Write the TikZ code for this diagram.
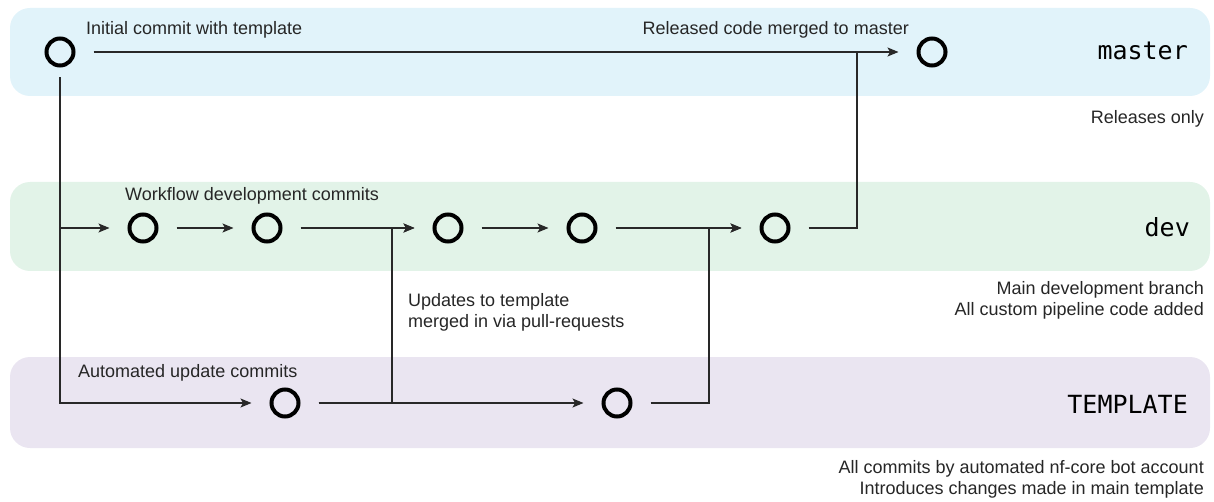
\documentclass[tikz,border=0pt]{standalone}
\usepackage{fontspec}
\setmainfont{Liberation Sans}
\setmonofont{DejaVu Sans Mono}
\usetikzlibrary{arrows.meta}
\definecolor{masterbg}{RGB}{225,243,250}
\definecolor{devbg}{RGB}{226,243,232}
\definecolor{tmplbg}{RGB}{234,229,241}
\definecolor{linegray}{RGB}{40,40,40}
\begin{document}
\begin{tikzpicture}[x=1pt,y=-1pt,
  commit/.style={circle, draw=black, line width=4pt, minimum size=27pt, inner sep=0pt, outer sep=20pt},
  conn/.style={draw=linegray, line width=1.3pt},
  push/.style={conn, -{Stealth[length=11pt,width=9pt,inset=2.5pt]}},
  band/.style={rounded corners=20pt, draw=none},
  lbl/.style={font=\fontsize{18}{21}\selectfont, inner sep=0pt, text=black!85},
  branch/.style={font=\fontsize{25}{30}\selectfont\ttfamily, inner sep=0pt, anchor=base east}]
\useasboundingbox (0,0) rectangle (1214,502);
% branch bands
\fill[band, masterbg] (10,8) rectangle (1210,96);
\fill[band, devbg] (10,182) rectangle (1210,271);
\fill[band, tmplbg] (10,357) rectangle (1210,448);
\node[branch] (bmaster) at (1188,60) {master};
\node[branch] (bdev) at (1190,237) {dev};
\node[branch] (btmpl) at (1188,413) {TEMPLATE};
% commits
\node[commit] (c0) at (60,52) {};
\node[commit] (m1) at (932,52) {};
\node[commit] (d1) at (143,228) {};
\node[commit] (d2) at (267,228) {};
\node[commit] (d3) at (448,228) {};
\node[commit] (d4) at (582,228) {};
\node[commit] (d5) at (775,228) {};
\node[commit] (t1) at (285,403) {};
\node[commit] (t2) at (617,403) {};
\coordinate (pr1) at (392,228);
\coordinate (pr2) at (709,228);
\coordinate (rel) at (857,52);
% connectors
\draw[push] (c0.east) -- (m1.west);
\draw[push] ([yshift=8pt]c0.south) |- (d1.west);
\draw[push] ([yshift=8pt]c0.south) |- (t1.west);
\draw[push] (d1) -- (d2);
\draw[push] (d2) -- (d3);
\draw[push] (d3) -- (d4);
\draw[push] (d4) -- (d5);
\draw[push] (t1) -- (t2);
\draw[push] (t1.east) -| (pr1) -- (d3.west);
\draw[push] (t2.east) -| (pr2) -- (d5.west);
\draw[conn] (d5.east) -| (rel);
% labels
\node[lbl, anchor=base west] (linit) at (86,35) {Initial commit with template};
\node[lbl, anchor=base east] (lrel) at (909,35) {Released code merged to master};
\node[lbl, anchor=base west] (lwork) at (125,201) {Workflow development commits};
\node[lbl, anchor=base west] (lauto) at (78,377) {Automated update commits};
\node[lbl, anchor=west, align=left] (lupd) at (408,312) {Updates to template\\merged in via pull-requests};
\node[lbl, anchor=base east] (lmaster) at (1204,124) {Releases only};
\node[lbl, anchor=east, align=right] (ldev) at (1204,300) {Main development branch\\All custom pipeline code added};
\node[lbl, anchor=east, align=right] (ltmpl) at (1204,479) {All commits by automated nf-core bot account\\Introduces changes made in main template};
\end{tikzpicture}
\end{document}
